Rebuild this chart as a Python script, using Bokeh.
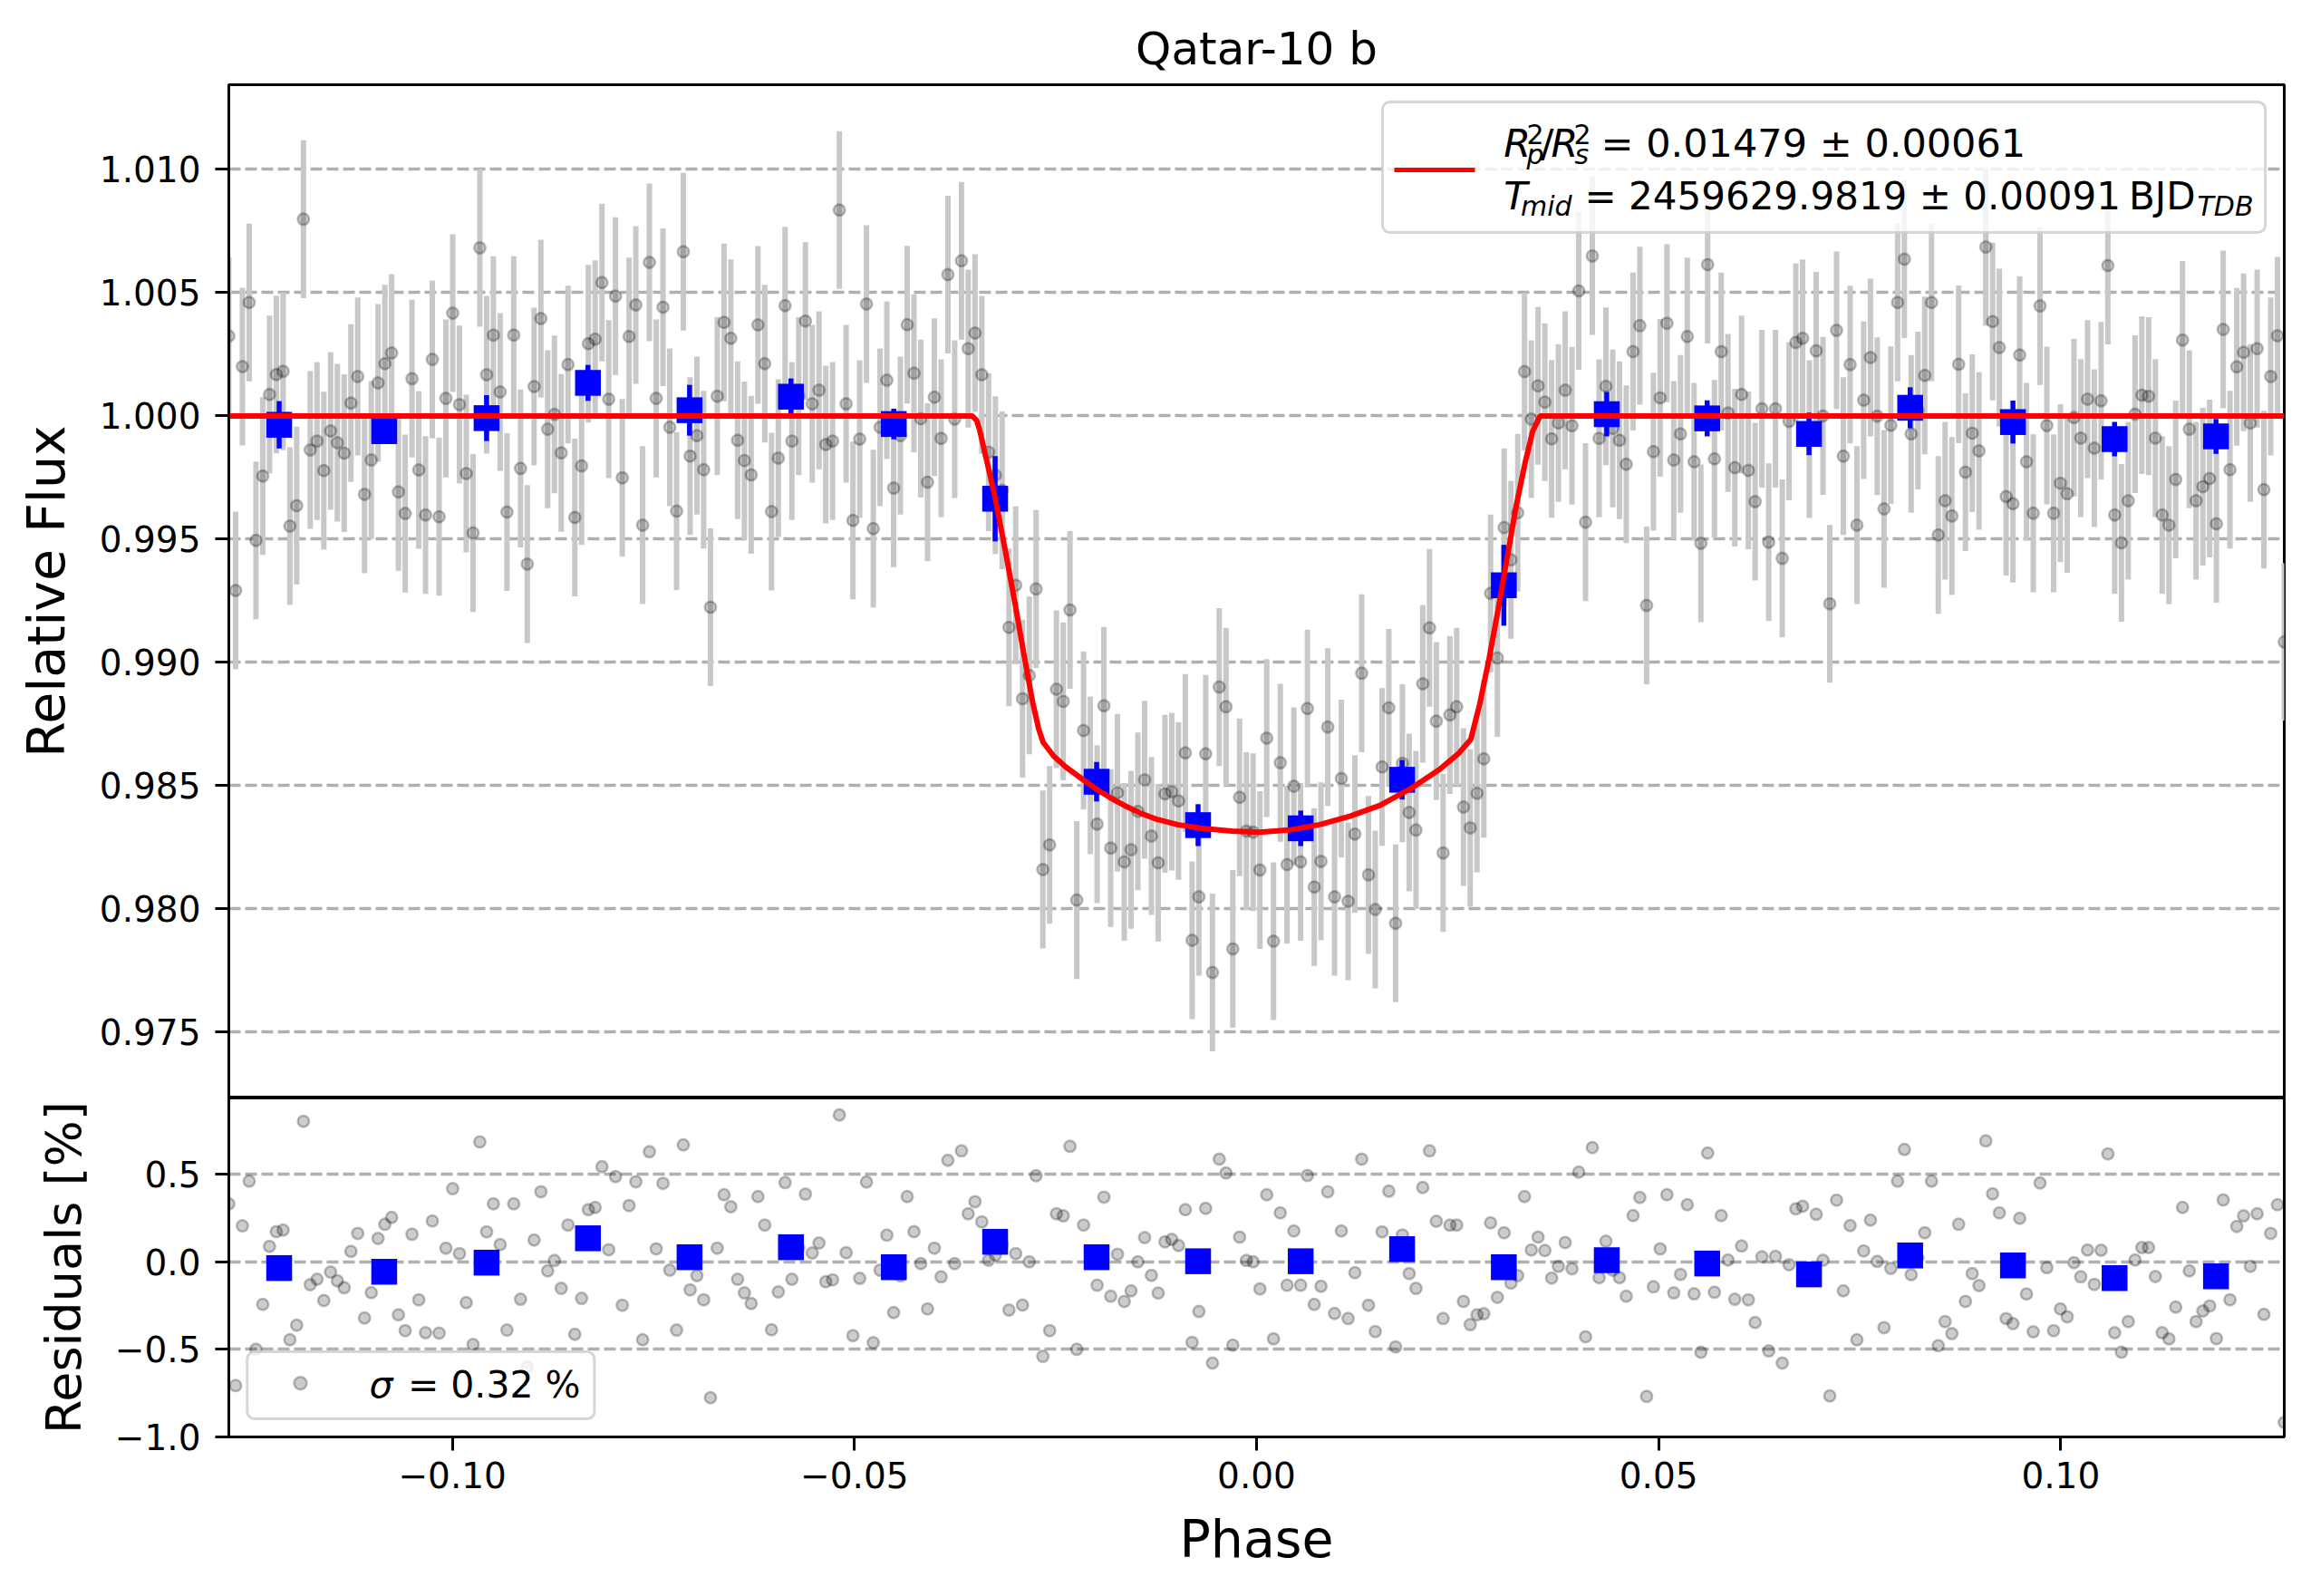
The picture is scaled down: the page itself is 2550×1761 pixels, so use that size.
import numpy as np
from bokeh.plotting import figure
from bokeh.models import (ColumnDataSource, Range1d, FixedTicker, CustomJSTickFormatter,
                          BoxAnnotation, Label)
from bokeh.layouts import column
from bokeh.embed import file_html
from bokeh.resources import INLINE

# ---------------- data ----------------
TITLE = "Qatar-10 b"
N_POINTS = 304
PHASE_FIRST = -0.1278
PHASE_LAST = 0.1278
FLUX_ERR = 0.0032

FLUX = [
    1.00324, 0.99292, 1.00200, 1.00460, 0.99495, 0.99756, 1.00087, 1.00168, 1.00181, 0.99553,
    0.99636, 1.00798, 0.99862, 0.99898, 0.99778, 0.99939, 0.99891, 0.99849, 1.00052, 1.00160,
    0.99682, 0.99821, 1.00134, 1.00212, 1.00255, 0.99692, 0.99604, 1.00151, 0.99781, 0.99598,
    1.00229, 0.99591, 1.00071, 1.00417, 1.00046, 0.99766, 0.99525, 1.00682, 1.00167, 1.00328,
    1.00097, 0.99610, 1.00328, 0.99787, 0.99399, 1.00119, 1.00395, 0.99946, 1.00006, 0.99850,
    1.00208, 0.99588, 0.99797, 1.00293, 1.00311, 1.00541, 1.00068, 1.00486, 0.99749, 1.00322,
    1.00450, 0.99557, 1.00623, 1.00071, 1.00441, 0.99954, 0.99614, 1.00666, 0.99837, 0.99920,
    0.99782, 0.99224, 1.00080, 1.00379, 1.00315, 0.99901, 0.99819, 0.99761, 1.00369, 1.00212,
    0.99612, 0.99829, 1.00447, 0.99898, 1.00080, 1.00385, 1.00049, 1.00104, 0.99884, 0.99898,
    1.00835, 1.00049, 0.99576, 0.99906, 1.00454, 0.99543, 0.99954, 1.00145, 0.99707, 0.99920,
    1.00370, 1.00173, 0.99989, 0.99731, 1.00076, 0.99909, 1.00573, 0.99987, 1.00629, 1.00273,
    1.00336, 1.00167, 0.99853, 0.99760, 0.99698, 0.99142, 0.99313, 0.98853, 0.98947, 0.99298,
    0.98160, 0.98260, 0.98891, 0.98842, 0.99213, 0.98036, 0.98724, 0.98542, 0.98344, 0.98824,
    0.98247, 0.98471, 0.98191, 0.98240, 0.98396, 0.98524, 0.98296, 0.98187, 0.98467, 0.98476,
    0.98438, 0.98633, 0.97873, 0.98049, 0.98629, 0.97742, 0.98900, 0.98820, 0.97838, 0.98453,
    0.98316, 0.98311, 0.98158, 0.98693, 0.97869, 0.98593, 0.98180, 0.98498, 0.98191, 0.98813,
    0.98089, 0.98193, 0.98738, 0.98049, 0.98529, 0.98031, 0.98304, 0.98956, 0.98138, 0.97998,
    0.98576, 0.98816, 0.97942, 0.98591, 0.98391, 0.98320, 0.98913, 0.99140, 0.98762, 0.98227,
    0.98787, 0.98820, 0.98413, 0.98329, 0.98469, 0.98609, 0.99280, 0.99018, 0.99547, 0.99416,
    0.99607, 1.00180, 0.99987, 1.00122, 1.00056, 0.99907, 0.99971, 1.00104, 0.99960, 1.00507,
    0.99569, 1.00649, 0.99909, 1.00120, 0.99949, 0.99901, 0.99804, 1.00261, 1.00366, 0.99231,
    0.99855, 1.00073, 1.00376, 0.99821, 0.99927, 1.00322, 0.99814, 0.99483, 1.00614, 0.99826,
    1.00261, 1.00012, 0.99790, 1.00087, 0.99779, 0.99652, 1.00029, 0.99488, 1.00029, 0.99422,
    0.99978, 1.00298, 1.00315, 0.99906, 1.00264, 1.00000, 0.99238, 1.00347, 0.99837, 1.00208,
    0.99557, 1.00064, 1.00237, 0.99999, 0.99623, 0.99962, 1.00460, 1.00636, 0.99927, 1.00022,
    1.00164, 1.00460, 0.99517, 0.99656, 0.99594, 1.00209, 0.99772, 0.99930, 0.99858, 1.00685,
    1.00383, 1.00277, 0.99673, 0.99644, 1.00247, 0.99814, 0.99605, 1.00446, 0.99961, 0.99605,
    0.99727, 0.99684, 0.99993, 0.99910, 1.00068, 0.99869, 1.00061, 1.00610, 0.99598, 0.99485,
    0.99656, 1.00007, 1.00084, 1.00080, 0.99910, 0.99598, 0.99557, 0.99742, 1.00308, 0.99946,
    0.99656, 0.99713, 0.99746, 0.99562, 1.00351, 0.99782, 1.00199, 1.00258, 0.99971, 1.00273,
    0.99701, 1.00160, 1.00325, 0.99083,
]

RESID = [
    0.331, -0.707, 0.205, 0.460, -0.500, -0.243, 0.088, 0.172, 0.181, -0.445,
    -0.362, 0.802, -0.131, -0.100, -0.221, -0.059, -0.109, -0.148, 0.059, 0.162,
    -0.321, -0.176, 0.133, 0.214, 0.253, -0.303, -0.393, 0.157, -0.217, -0.405,
    0.233, -0.407, 0.078, 0.417, 0.047, -0.233, -0.472, 0.684, 0.171, 0.331,
    0.098, -0.390, 0.331, -0.214, -0.600, 0.124, 0.400, -0.052, 0.007, -0.152,
    0.210, -0.414, -0.209, 0.297, 0.310, 0.543, 0.069, 0.486, -0.248, 0.321,
    0.457, -0.445, 0.628, 0.074, 0.448, -0.048, -0.390, 0.667, -0.160, -0.079,
    -0.217, -0.776, 0.078, 0.383, 0.314, -0.100, -0.178, -0.238, 0.372, 0.210,
    -0.388, -0.172, 0.452, -0.100, 0.080, 0.386, 0.050, 0.107, -0.114, -0.103,
    0.838, 0.052, -0.422, -0.095, 0.455, -0.462, -0.048, 0.152, -0.290, -0.080,
    0.372, 0.172, -0.010, -0.269, 0.078, -0.086, 0.579, -0.010, 0.633, 0.274,
    0.343, 0.228, 0.009, 0.038, 0.100, -0.276, 0.047, -0.247, 0.000, 0.491,
    -0.540, -0.393, 0.274, 0.262, 0.659, -0.500, 0.210, 0.050, -0.134, 0.369,
    -0.197, 0.043, -0.226, -0.166, 0.000, 0.138, -0.078, -0.179, 0.114, 0.128,
    0.093, 0.297, -0.460, -0.284, 0.305, -0.578, 0.586, 0.507, -0.476, 0.141,
    0.007, 0.000, -0.155, 0.383, -0.440, 0.279, -0.134, 0.176, -0.134, 0.493,
    -0.243, -0.140, 0.400, -0.295, 0.176, -0.324, -0.062, 0.586, -0.248, -0.398,
    0.171, 0.403, -0.486, 0.153, -0.067, -0.152, 0.424, 0.633, 0.231, -0.324,
    0.209, 0.210, -0.226, -0.359, -0.303, -0.297, 0.222, -0.203, 0.166, -0.122,
    -0.079, 0.372, 0.067, 0.141, 0.064, -0.093, -0.026, 0.110, -0.040, 0.512,
    -0.428, 0.652, -0.091, 0.117, -0.048, -0.091, -0.197, 0.264, 0.367, -0.769,
    -0.143, 0.074, 0.383, -0.178, -0.072, 0.326, -0.183, -0.516, 0.621, -0.174,
    0.264, 0.010, -0.214, 0.090, -0.217, -0.347, 0.028, -0.509, 0.031, -0.578,
    -0.017, 0.302, 0.317, -0.094, 0.271, 0.009, -0.766, 0.352, -0.166, 0.207,
    -0.445, 0.062, 0.238, 0.002, -0.376, -0.038, 0.460, 0.641, -0.074, 0.022,
    0.166, 0.460, -0.479, -0.341, -0.410, 0.214, -0.226, -0.067, -0.136, 0.690,
    0.388, 0.279, -0.324, -0.353, 0.248, -0.184, -0.400, 0.450, -0.034, -0.393,
    -0.269, -0.314, -0.005, -0.086, 0.067, -0.129, 0.066, 0.616, -0.405, -0.516,
    -0.341, 0.010, 0.081, 0.081, -0.084, -0.405, -0.440, -0.259, 0.310, -0.052,
    -0.341, -0.281, -0.252, -0.438, 0.353, -0.217, 0.202, 0.262, -0.026, 0.274,
    -0.300, 0.162, 0.326, -0.917,
]

BIN_PHASE = [-0.12154, -0.10848, -0.09575, -0.08314, -0.07051, -0.05790, -0.04511,
             -0.03251, -0.01989, -0.00727, 0.00549, 0.01810, 0.03075, 0.04355,
             0.05604, 0.06870, 0.08128, 0.09406, 0.10670, 0.11931]
BIN_FLUX = [0.99964, 0.99938, 0.99991, 1.00134, 1.00023, 1.00078, 0.99967,
            0.99664, 0.98516, 0.98340, 0.98327, 0.98524, 0.99313, 1.00007,
            0.99990, 0.99927, 1.00033, 0.99975, 0.99906, 0.99917]
BIN_ERR = [0.00096, 0.00052, 0.00093, 0.00073, 0.00103, 0.00074, 0.00062,
           0.00173, 0.00080, 0.00085, 0.00072, 0.00080, 0.00164, 0.00090,
           0.00073, 0.00086, 0.00083, 0.00087, 0.00070, 0.00071]
BIN_RESID = [-0.036, -0.057, -0.005, 0.134, 0.026, 0.083, -0.031,
             0.114, 0.026, 0.003, 0.003, 0.072, -0.031, 0.009,
             -0.010, -0.072, 0.036, -0.021, -0.093, -0.083]

MODEL_PHASE = [-0.1278, -0.03537, -0.03481, -0.03443, -0.03349, -0.03256, -0.03124,
               -0.03011, -0.02898, -0.02786, -0.02710, -0.02654, -0.02523, -0.02372,
               -0.02185, -0.01996, -0.01808, -0.01621, -0.01433, -0.01245, -0.00982,
               -0.00681, -0.00306, 0.00033, 0.00408, 0.00785, 0.01160, 0.01535,
               0.01912, 0.02287, 0.02513, 0.02663, 0.02775, 0.02888, 0.03001,
               0.03114, 0.03226, 0.03339, 0.03434, 0.03527, 0.1278]
MODEL_FLUX = [1.0, 1.0, 0.99982, 0.99942, 0.99809, 0.99676, 0.99453,
              0.99253, 0.99042, 0.98842, 0.98731, 0.98676, 0.98620, 0.98576,
              0.98531, 0.98487, 0.98449, 0.98416, 0.98387, 0.98364, 0.98342,
              0.98327, 0.98316, 0.98311, 0.98320, 0.98342, 0.98376, 0.98420,
              0.98487, 0.98569, 0.98631, 0.98687, 0.98831, 0.99009, 0.99209,
              0.99420, 0.99631, 0.99809, 0.99938, 1.0, 1.0]

Y_TICKS_MAIN = [0.975, 0.980, 0.985, 0.990, 0.995, 1.000, 1.005, 1.010]
Y_TICKS_RES = [-1.0, -0.5, 0.0, 0.5]
X_TICKS = [-0.10, -0.05, 0.0, 0.05, 0.10]

RP_TEXT = "= 0.01479 ± 0.00061"
TMID_TEXT = "= 2459629.9819 ± 0.00091"
SIGMA_TEXT = "= 0.32 %"

# ---------------- styling ----------------
FONT = "DejaVu Sans"
GRAY_BAR = "#c8c8c8"
GRID = "#b0b0b0"

phase = np.linspace(PHASE_FIRST, PHASE_LAST, N_POINTS)
flux = np.array(FLUX)
resid = np.array(RESID)
bflux = np.array(BIN_FLUX)
berr = np.array(BIN_ERR)

src = ColumnDataSource(dict(x=phase, y=flux, lo=flux - FLUX_ERR, hi=flux + FLUX_ERR, r=resid))
bsrc = ColumnDataSource(dict(x=BIN_PHASE, y=BIN_FLUX, lo=bflux - berr, hi=bflux + berr, r=BIN_RESID))

xr = Range1d(PHASE_FIRST, PHASE_LAST)


def style_axes(p, ylabel_standoff, ylabel_size="57px"):
    p.outline_line_color = "black"
    p.outline_line_width = 3
    p.background_fill_color = "white"
    p.border_fill_color = "white"
    for ax in p.yaxis + p.xaxis:
        ax.axis_line_width = 3
        ax.axis_line_color = "black"
        ax.major_tick_line_width = 3
        ax.major_tick_out = 15
        ax.major_tick_in = 0
        ax.minor_tick_line_color = None
        ax.major_label_text_font = FONT
        ax.major_label_text_font_size = "39px"
        ax.major_label_text_color = "black"
        ax.axis_label_text_font = FONT
        ax.axis_label_text_font_size = "57px"
        ax.axis_label_text_font_style = "normal"
        ax.axis_label_text_color = "black"
    for ax in p.yaxis:
        ax.major_label_standoff = 16
        ax.axis_label_standoff = ylabel_standoff
        ax.axis_label_text_font_size = ylabel_size
    p.ygrid.grid_line_color = GRID
    p.ygrid.grid_line_width = 3.5
    p.ygrid.grid_line_dash = "13 5"
    p.xgrid.grid_line_color = None


def screen_box(**kw):
    return BoxAnnotation(left_units="screen", right_units="screen",
                         bottom_units="screen", top_units="screen", **kw)


def lab(p, x, y, text, size, style="normal", align="left"):
    # y is the wanted baseline (screen px above the frame bottom); the small
    # shift compensates for where the SVG text baseline is drawn.
    p.add_layout(Label(x=x, y=y + 0.31 * size, x_units="screen", y_units="screen",
                       text=text, text_font=FONT, text_font_size=f"{size}px",
                       text_font_style=style, text_color="black", text_align=align,
                       text_baseline="alphabetic"))


# ---------------- main panel ----------------
p1 = figure(frame_width=2268, frame_height=1118, x_range=xr,
            y_range=Range1d(0.972331, 1.013434), x_axis_location=None,
            output_backend="svg", toolbar_location=None, title=TITLE,
            min_border_left=252, min_border_right=20, min_border_top=93, min_border_bottom=0)
p1.title.align = "center"
p1.title.text_font = FONT
p1.title.text_font_size = "50px"
p1.title.text_font_style = "normal"
p1.title.text_color = "black"
p1.title.standoff = 21
p1.yaxis.axis_label = "Relative Flux"
p1.yaxis.ticker = FixedTicker(ticks=Y_TICKS_MAIN)
p1.yaxis.formatter = CustomJSTickFormatter(code="return tick.toFixed(3);")
style_axes(p1, 23)

p1.segment("x", "lo", "x", "hi", source=src, line_color=GRAY_BAR, line_width=6)
p1.scatter("x", "y", source=src, marker="circle", size=12.5, fill_color="black",
           fill_alpha=0.2, line_color="black", line_alpha=0.25, line_width=2.5)
p1.segment("x", "lo", "x", "hi", source=bsrc, line_color="blue", line_width=5.5)
p1.scatter("x", "y", source=bsrc, marker="square", size=28.5, fill_color="blue",
           line_color=None)
p1.line(MODEL_PHASE, MODEL_FLUX, line_color="red", line_width=6)

# legend of the main panel (screen units relative to the frame)
p1.add_layout(screen_box(left=1273, right=2247, bottom=955, top=1099,
                         fill_color="white", fill_alpha=0.8, line_color="#cccccc",
                         line_alpha=0.8, line_width=3, border_radius=8))
p1.add_layout(screen_box(left=1286, right=1375, bottom=1021.5, top=1026.5,
                         fill_color="red", fill_alpha=1.0, line_color=None))

B1, B2 = 1040.5, 982.0
SUP1, SUB1, SUB2 = 1054.0, 1031.3, 975.0
lab(p1, 1406.7, B1, "R", 43, "italic")
lab(p1, 1432, SUP1, "2", 30)
lab(p1, 1432, SUB1, "p", 30, "italic")
lab(p1, 1447.5, B1, "/", 43)
lab(p1, 1459, B1, "R", 43, "italic")
lab(p1, 1484, SUP1, "2", 30)
lab(p1, 1485, SUB1, "s", 30, "italic")
lab(p1, 1514, B1, RP_TEXT, 43)
lab(p1, 1406.7, B2, "T", 43, "italic")
lab(p1, 1425.5, SUB2, "mid", 30, "italic")
lab(p1, 1496, B2, TMID_TEXT, 42)
lab(p1, 2170, B2, "BJD", 42, align="right")
lab(p1, 2172, SUB2, "TDB", 30, "italic")

# ---------------- residual panel ----------------
p2 = figure(frame_width=2268, frame_height=374, x_range=xr,
            y_range=Range1d(-1.0, 0.935),
            output_backend="svg", toolbar_location=None,
            min_border_left=252, min_border_right=20, min_border_top=0, min_border_bottom=120)
p2.yaxis.axis_label = "Residuals [%]"
p2.xaxis.axis_label = "Phase"
p2.yaxis.ticker = FixedTicker(ticks=Y_TICKS_RES)
p2.xaxis.ticker = FixedTicker(ticks=X_TICKS)
p2.yaxis.formatter = CustomJSTickFormatter(
    code="return (tick < 0 ? '\\u2212' : '') + Math.abs(tick).toFixed(1);")
p2.xaxis.formatter = CustomJSTickFormatter(
    code="return (tick < 0 ? '\\u2212' : '') + Math.abs(tick).toFixed(2);")
style_axes(p2, 22, "54px")
p2.xaxis.major_label_standoff = 12
p2.xaxis.axis_label_standoff = 20

p2.scatter("x", "r", source=src, marker="circle", size=12.5, fill_color="black",
           fill_alpha=0.2, line_color="black", line_alpha=0.25, line_width=2.5)
p2.scatter("x", "r", source=bsrc, marker="square", size=28.5, fill_color="blue",
           line_color=None)

p2.add_layout(screen_box(left=20.3, right=403.4, bottom=20, top=94,
                         fill_color="white", fill_alpha=0.8, line_color="#cccccc",
                         line_alpha=0.8, line_width=3, border_radius=8))
p2.add_layout(screen_box(left=72, right=86, bottom=52.3, top=66.3,
                         fill_color="black", fill_alpha=0.2, line_color="black",
                         line_alpha=0.25, line_width=2.5, border_radius=7))
lab(p2, 155, 45, "σ", 41, "italic")
lab(p2, 197.4, 45, SIGMA_TEXT, 41)

layout = column(p1, p2)
with open("out.html", "w", encoding="utf-8") as f:
    f.write(file_html(layout, INLINE, title=TITLE))
